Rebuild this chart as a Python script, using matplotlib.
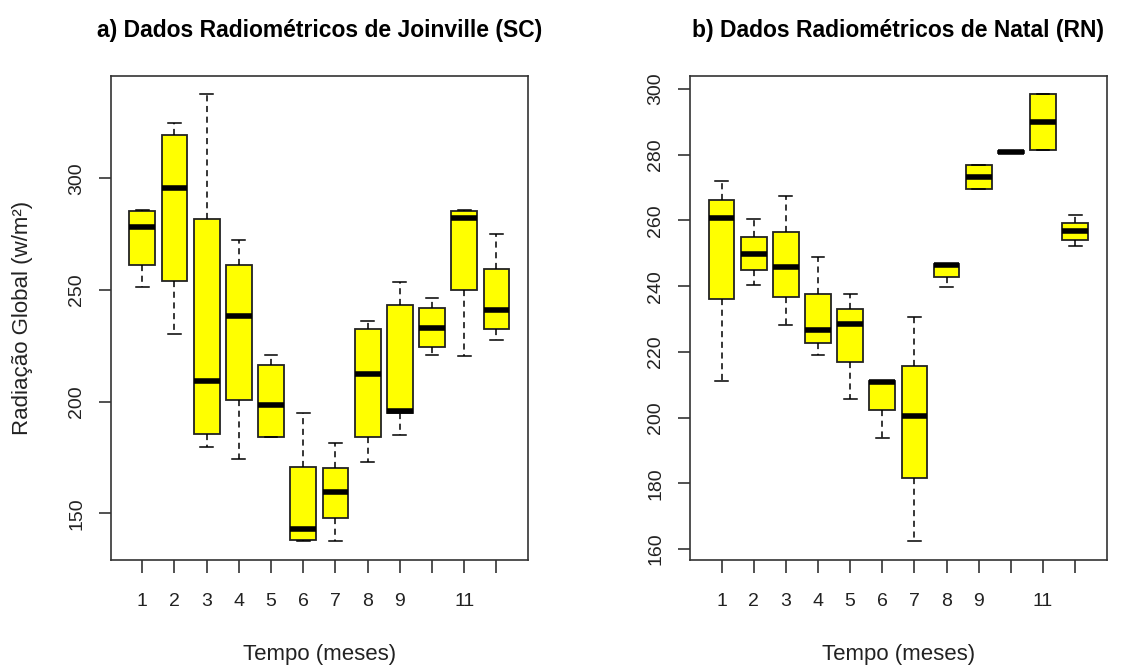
import matplotlib
matplotlib.use("Agg")
import matplotlib.pyplot as plt

plt.rcParams['font.family'] = ['Liberation Sans', 'DejaVu Sans']

meses = list(range(1, 13))
tick_labels = ["1", "2", "3", "4", "5", "6", "7", "8", "9", "", "11", ""]

# a) Joinville (SC)
jv_whislo = [251.3, 230.1, 179.5, 174.2, 184.0, 137.6, 137.6, 172.8, 185.0, 220.9, 220.4, 227.6]
jv_q1 = [261.0, 253.9, 185.6, 200.7, 184.3, 138.0, 147.9, 184.3, 194.8, 224.6, 250.0, 232.5]
jv_med = [278.0, 295.7, 209.4, 238.5, 198.5, 143.0, 159.4, 212.4, 195.8, 233.0, 282.4, 241.0]
jv_q3 = [285.4, 319.4, 281.6, 261.0, 216.5, 170.9, 170.4, 232.5, 243.3, 242.1, 285.4, 259.2]
jv_whishi = [285.8, 324.9, 337.7, 272.5, 220.9, 194.8, 181.3, 236.1, 253.7, 246.4, 285.8, 275.1]

# b) Natal (RN)
nt_whislo = [211.2, 240.5, 228.1, 219.1, 205.8, 193.8, 162.5, 239.7, 269.6, 280.5, 281.5, 252.2]
nt_q1 = [236.0, 245.0, 236.8, 222.7, 217.0, 202.2, 181.5, 242.9, 269.6, 280.5, 281.5, 254.2]
nt_med = [260.8, 249.7, 245.9, 226.6, 228.6, 210.8, 200.4, 246.4, 273.2, 280.8, 289.9, 256.7]
nt_q3 = [266.1, 255.0, 256.6, 237.5, 233.1, 211.2, 215.8, 246.7, 276.9, 281.0, 298.5, 259.1]
nt_whishi = [271.9, 260.4, 267.5, 248.8, 237.6, 211.2, 230.6, 246.7, 276.9, 281.0, 298.5, 261.7]


def stats(lo, q1, med, q3, hi):
    out = []
    for i in range(len(med)):
        out.append(dict(whislo=lo[i], q1=q1[i], med=med[i], q3=q3[i], whishi=hi[i], fliers=[]))
    return out


def draw(ax, st, yticks, title):
    ax.bxp(st, positions=meses, widths=0.8, patch_artist=True, showfliers=False,
           boxprops=dict(facecolor="#FFFF00", edgecolor="#222222", linewidth=1.3),
           medianprops=dict(color="black", linewidth=4, solid_capstyle="butt"),
           whiskerprops=dict(color="black", linewidth=1.1, linestyle=(0, (4, 3))),
           capprops=dict(color="black", linewidth=1.1), capwidths=0.4)
    ax.set_xlim(0.02, 12.98)
    ax.set_xticks(meses)
    ax.set_xticklabels(tick_labels)
    ax.set_yticks(yticks)
    ax.set_yticklabels([str(v) for v in yticks], rotation=90, va="center")
    ax.tick_params(axis="both", direction="out", length=9, width=1.1, colors="#222222",
                   labelsize=14)
    ax.tick_params(axis="x", pad=15)
    ax.tick_params(axis="y", pad=9.5)
    for s in ax.spines.values():
        s.set_linewidth(1.2)
        s.set_color("#333333")
    ax.set_title(title, fontsize=16.5, fontweight="bold", pad=28)


fig = plt.figure(figsize=(11.34, 6.66), dpi=100)
W, H = 1134, 666
ax1 = fig.add_axes([110.7 / W, 106 / H, 417.3 / W, 484 / H])
ax2 = fig.add_axes([690 / W, 106 / H, 416.7 / W, 484 / H])

draw(ax1, stats(jv_whislo, jv_q1, jv_med, jv_q3, jv_whishi), [150, 200, 250, 300],
     "a) Dados Radiométricos de Joinville (SC)")
ax1.set_ylim(129.1, 345.8)
draw(ax2, stats(nt_whislo, nt_q1, nt_med, nt_q3, nt_whishi), [160, 180, 200, 220, 240, 260, 280, 300],
     "b) Dados Radiométricos de Natal (RN)")
ax2.set_ylim(156.7, 303.95)

ax1.set_ylabel("Radiação Global (w/m²)", fontsize=16, color="#222222", labelpad=25)
ax1.set_xlabel("Tempo (meses)", fontsize=16, color="#222222", labelpad=24)
ax2.set_xlabel("Tempo (meses)", fontsize=16, color="#222222", labelpad=24)

fig.savefig("out.png", dpi=100)
